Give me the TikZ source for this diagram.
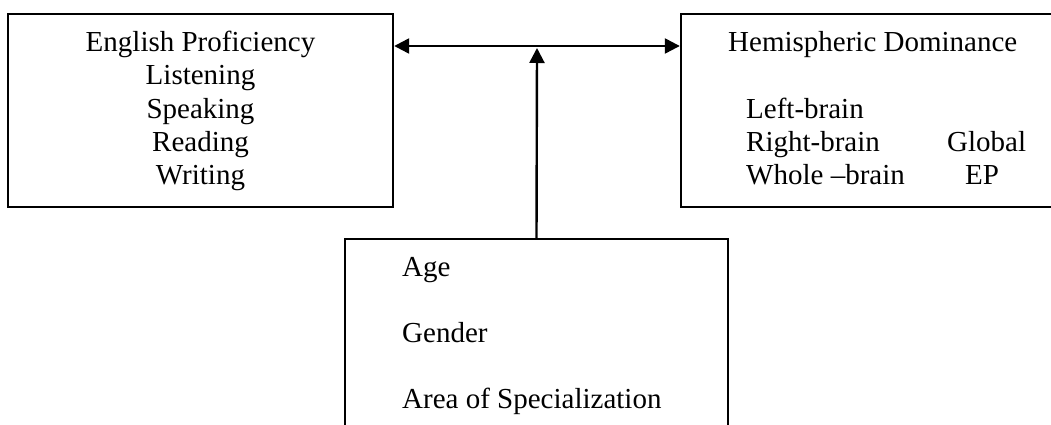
\documentclass[tikz,border=0pt]{standalone}
\usepackage{fontspec}
\setmainfont{Liberation Serif}
\usetikzlibrary{arrows.meta}

\begin{document}
\begin{tikzpicture}[x=1pt,y=-1pt]
\tikzstyle{every node}=[font=\fontsize{29}{33}\selectfont]
\tikzstyle{box}=[draw,line width=2.4pt,inner sep=0pt]
\tikzstyle{txt}=[anchor=base,inner sep=0pt]
\tikzstyle{txtl}=[anchor=base west,inner sep=0pt]
\tikzstyle{arr}=[line width=2.4pt,-{Triangle[length=15pt,width=15pt]}]
\tikzstyle{arrs}=[line width=2.4pt,{Triangle[length=15pt,width=15pt]}-{Triangle[length=15pt,width=15pt]}]
\path[use as bounding box,clip] (0,0) rectangle (1051,425);
% boxes
\node[box,minimum width=385pt,minimum height=193pt] (eng) at (200.5,110.5) {};
\node[box,minimum width=379pt,minimum height=193pt] (hemi) at (870.5,110.5) {};
\node[box,minimum width=383pt,minimum height=221pt] (fac) at (536.5,349.5) {};
% left box
\node[txt] (engt) at (200.5,52) {English Proficiency};
\node[txt] (lis) at (200.5,85) {Listening};
\node[txt] (spk) at (200.5,118) {Speaking};
\node[txt] (rd) at (200.5,151) {Reading};
\node[txt] (wr) at (200.5,184) {Writing};
% right box
\node[txtl] (hemit) at (728,52) {Hemispheric Dominance};
\node[txtl] (lb) at (746,118) {Left-brain};
\node[txtl] (rb) at (746,151) {Right-brain};
\node[txtl] (wb) at (746,184) {Whole \textendash brain};
\node[txtl] (glob) at (947,151) {Global};
\node[txtl] (epr) at (965,184) {EP};
% bottom box
\node[txtl] (age) at (402,276) {Age};
\node[txtl] (gen) at (402,342) {Gender};
\node[txtl] (area) at (402,408) {Area of Specialization};
% arrows
\coordinate (mid) at (537,46);
\coordinate (join) at (537,48);
\draw[arrs] (eng.east |- mid) -- (hemi.west |- mid);
\draw[arr] (fac.north) -- (join);
\end{tikzpicture}
\end{document}
